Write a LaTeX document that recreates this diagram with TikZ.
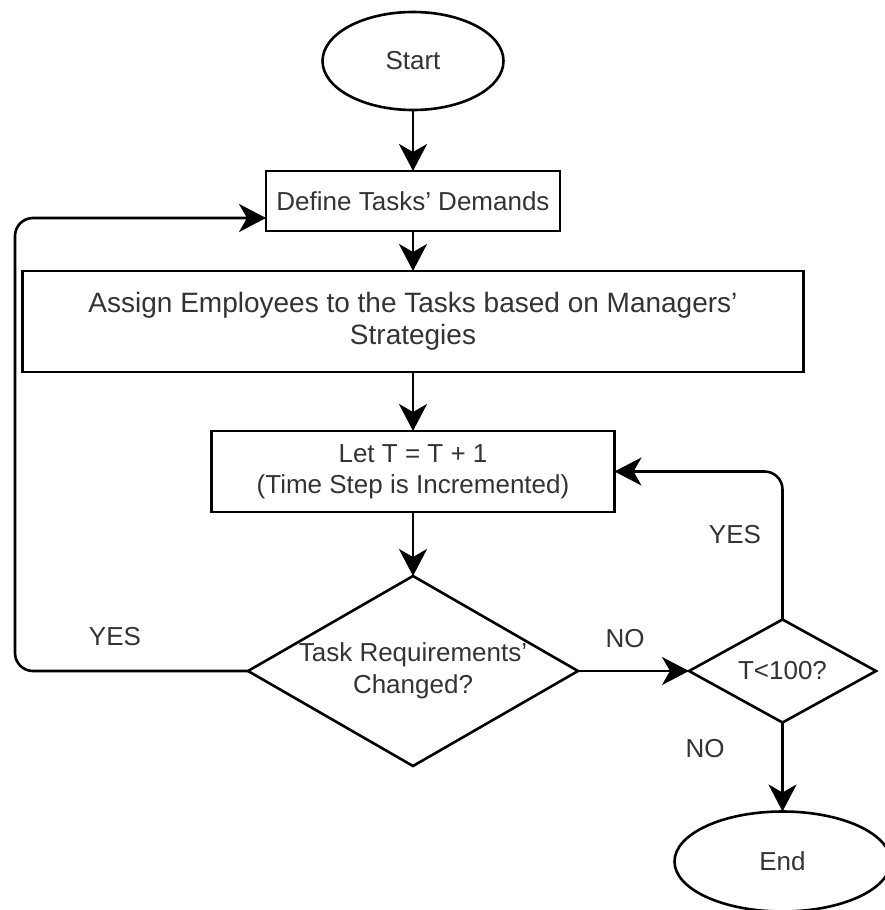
\documentclass[tikz,border=0pt]{standalone}
\usepackage{fontspec}
\setmainfont{Liberation Sans}
\usetikzlibrary{arrows.meta, positioning, shapes.geometric}
\definecolor{LineColor}{RGB}{0, 0, 0}
\definecolor{TextColor}{RGB}{51, 51, 51}

\begin{document}
\begin{tikzpicture}[
    x=1pt, y=-1pt,
    base/.style={
        draw=LineColor,
        line width=2.6pt,
        inner sep=0pt,
        outer sep=0pt,
        align=center,
        text=TextColor,
        font=\fontsize{26}{31.5}\selectfont
    },
    terminal/.style={base, ellipse, minimum width=181pt, minimum height=98pt},
    process/.style={base, rectangle, minimum height=60pt},
    decision/.style={base, diamond, shape aspect=1.74, minimum width=330pt, minimum height=190pt},
    label/.style={text=TextColor, font=\fontsize{26}{30}\selectfont, inner sep=0pt},
    arrow/.style={-{Stealth[length=27pt, width=28pt, inset=8pt]}, line width=2.6pt, LineColor},
    loop/.style={arrow, rounded corners=18pt}
]

\useasboundingbox (0,0) rectangle (885,910);

% Main column
\node[terminal] at (413, 61) (start) {Start};
\node[process, minimum width=294pt, below=61pt of start] (define) {Define Tasks' Demands};
\node[process, minimum width=781pt, minimum height=101pt, below=40pt of define, font=\fontsize{28}{32}\selectfont] (assign) {Assign Employees to the Tasks based on Managers'\\Strategies};
\node[process, minimum width=403pt, minimum height=81pt, below=59pt of assign] (increment) {Let T = T + 1\\(Time Step is Incremented)};
\node[decision, below=64pt of increment] (changed) {Task Requirements'\\Changed?};

% Right column
\node[decision, shape aspect=1.8, minimum width=187pt, minimum height=103pt, right=111pt of changed] (limit) {T<100?};
\node[terminal, minimum width=216pt, minimum height=100pt, below=89pt of limit] (stop) {End};

% Loop corner
\coordinate (yescorner) at (15, 671);

% Branch labels
\node[label] at (115, 637) (yes_changed) {YES};
\node[label] at (625, 639) (no_changed) {NO};
\node[label] at (735, 535) (yes_limit) {YES};
\node[label] at (705, 749) (no_limit) {NO};

% Connections
\draw[arrow] (start) -- (define);
\draw[arrow] (define) -- (assign);
\draw[arrow] (assign) -- (increment);
\draw[arrow] (increment) -- (changed);
\draw[arrow] (changed) -- (limit);
\draw[arrow] (limit) -- (stop);

% Loops back
\draw[loop] (changed.west) -- (yescorner) |- ([yshift=-17pt]define.west);
\draw[loop] (limit.north) |- (increment.east);

\end{tikzpicture}
\end{document}
